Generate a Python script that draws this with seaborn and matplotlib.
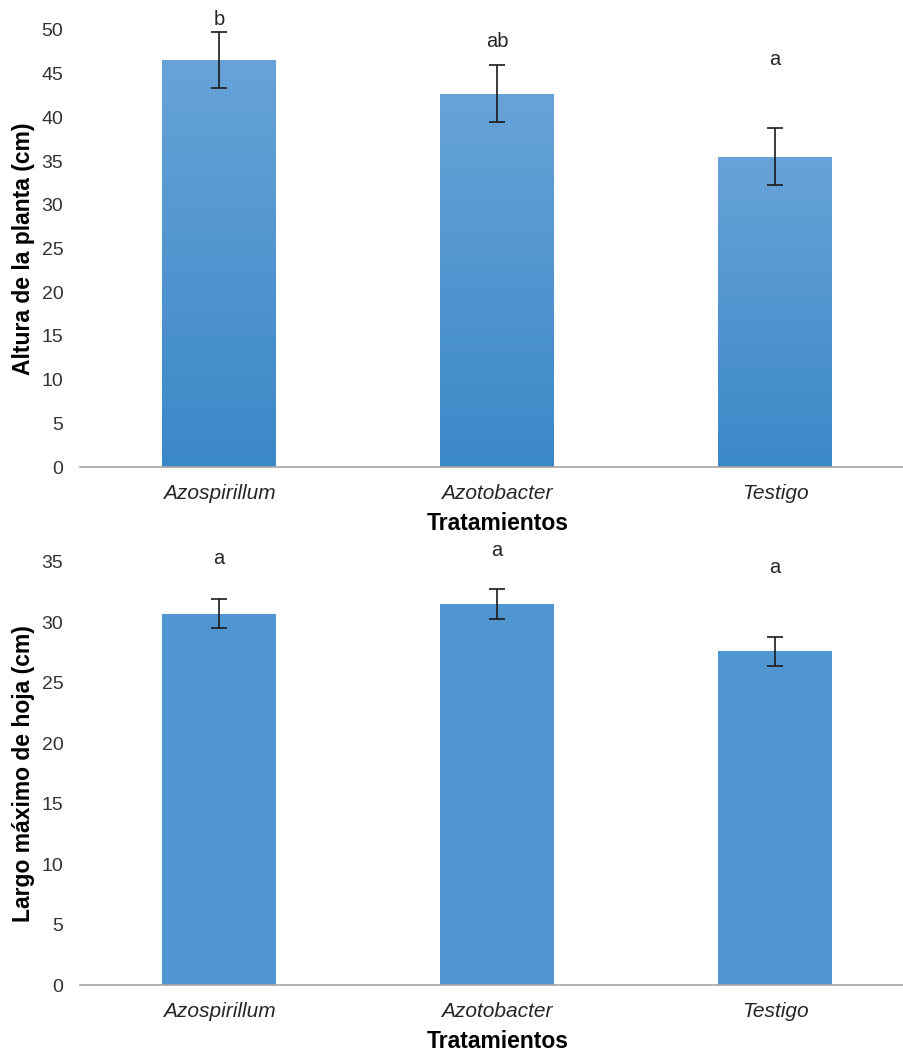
import numpy as np
import pandas as pd
import matplotlib
matplotlib.use("Agg")
import matplotlib.pyplot as plt
import seaborn as sns
from matplotlib.colors import LinearSegmentedColormap

# === data ===
tratamientos = ["Azospirillum", "Azotobacter", "Testigo"]
altura = [46.6, 42.7, 35.5]
altura_err = [3.2, 3.25, 3.25]
altura_letras = ["b", "ab", "a"]
altura_letras_y = [50.6, 48.1, 46.0]
largo = [30.7, 31.5, 27.6]
largo_err = [1.2, 1.25, 1.2]
largo_letras = ["a", "a", "a"]
largo_letras_y = [34.8, 35.5, 34.1]

sns.set_theme(style="white")
plt.rcParams["font.family"] = ["Liberation Sans", "DejaVu Sans"]

fig = plt.figure(figsize=(9.04, 10.52), dpi=100)
ax1 = fig.add_axes([80 / 904, 1 - 467 / 1052, 834 / 904, 437 / 1052])
ax2 = fig.add_axes([80 / 904, 1 - 985 / 1052, 834 / 904, 423 / 1052])

grad = LinearSegmentedColormap.from_list("g", ["#3b88c8", "#67a3d8"])


def draw(ax, vals, errs, letras, letras_y, ylabel, ymax, gradient, xlab_y):
    df = pd.DataFrame({"trat": tratamientos, "val": vals})
    sns.barplot(data=df, x="trat", y="val", ax=ax, color="#5097d1",
                width=0.41, saturation=1, edgecolor="none")
    xs = [p.get_x() + p.get_width() / 2 for p in ax.patches]
    ax.errorbar(xs, vals, yerr=errs, fmt="none", ecolor="#1a1a1a",
                elinewidth=1.2, capsize=6, capthick=1.2, zorder=5)
    for x, ly, l in zip(xs, letras_y, letras):
        ax.text(x, ly, l, ha="center", va="baseline",
                fontsize=14.5, color="#262626")
    if gradient:
        for p in ax.patches:
            x0, w, h = p.get_x(), p.get_width(), p.get_height()
            img = np.linspace(0, 1, 256).reshape(-1, 1)
            im = ax.imshow(img, cmap=grad, origin="lower", aspect="auto",
                           extent=[x0, x0 + w, 0, h], zorder=p.get_zorder() + 0.1)
            im.set_clip_path(p)
    ax.set_xlim(-0.5, 2.5)
    ax.set_ylim(0, ymax)
    ax.set_yticks(np.arange(0, ymax + 0.1, 5))
    ax.tick_params(axis="y", labelsize=14, labelcolor="#333333", length=0, pad=12)
    ax.tick_params(axis="x", labelsize=15, labelcolor="#262626", length=0, pad=12)
    for t in ax.get_xticklabels():
        t.set_fontstyle("italic")
    for s in ["top", "right", "left"]:
        ax.spines[s].set_visible(False)
    ax.spines["bottom"].set_color("#a6a6a6")
    ax.spines["bottom"].set_linewidth(1.2)
    ax.set_ylabel(ylabel, fontsize=16.5, fontweight="bold", color="black", labelpad=5)
    ax.set_xlabel("Tratamientos", fontsize=16.5, fontweight="bold", color="black")
    # x label centred under the visible part of the axis
    ax.xaxis.set_label_coords((498 - 80) / 834, xlab_y)


draw(ax1, altura, altura_err, altura_letras, altura_letras_y,
     "Altura de la planta (cm)", 50, True, -0.103)
draw(ax2, largo, largo_err, largo_letras, largo_letras_y,
     "Largo máximo de hoja (cm)", 35, False, -0.106)

fig.savefig("out.png", dpi=100)
